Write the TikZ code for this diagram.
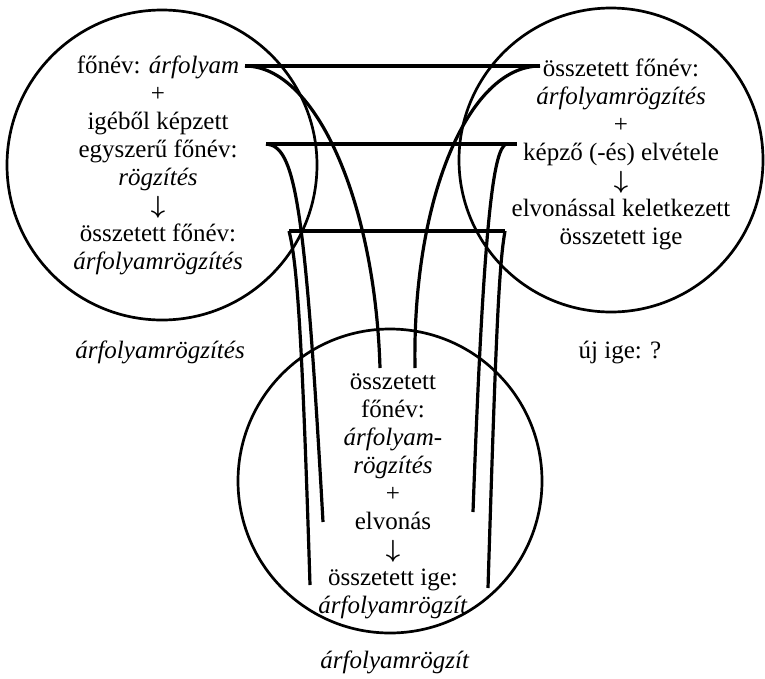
\documentclass[tikz,border=0pt]{standalone}
\usepackage{fontspec}
\setmainfont{Liberation Serif}
\usepackage{tikz}
\usetikzlibrary{positioning}

\newcommand{\lefele}{{\fontsize{23}{28}\selectfont$\boldsymbol{\downarrow}$}}
\providecommand{\boldsymbol}[1]{\mbox{\boldmath$#1$}}

\begin{document}
\begin{tikzpicture}[
      x=1pt, y=-1pt,
      kor/.style={line width=2.7pt},
      vonal/.style={line width=3.2pt},
      szoveg/.style={align=center, font=\fontsize{25}{28}\selectfont, inner sep=0pt}
  ]
      \useasboundingbox (0,0) rectangle (765,678);

      % Körök
      \draw[kor] (162,165) circle (155pt);
      \draw[kor] (611,160) circle (152pt);
      \draw[kor] (390,481) circle (152pt);

      % Vízszintes vonalak végpontjai
      \coordinate (a1) at (245,66);
      \coordinate (b1) at (540,66);
      \coordinate (a2) at (266,144);
      \coordinate (b2) at (517,144);
      \coordinate (c2) at (506,144);
      \coordinate (a3) at (289,231);
      \coordinate (b3) at (505,231);

      % Függőleges vonalak alsó végei
      \coordinate (v1) at (380,368);
      \coordinate (w1) at (415,368);
      \coordinate (v2) at (323,522);
      \coordinate (w2) at (473,512);
      \coordinate (v3) at (310,585);
      \coordinate (w3) at (488,588);

      % Vízszintes vonalak
      \foreach \i in {1,2,3} {
          \draw[vonal] (a\i) -- (b\i);
      }

      % Ívek a vonalak végeiről lefelé
      \draw[vonal] (a1) .. controls (315,66) and (375,200) .. (v1);
      \draw[vonal] (b1) .. controls (468,66) and (412,200) .. (w1);
      \draw[vonal] (a2) .. controls (295,146) and (305,200) .. (v2);
      \draw[vonal] (c2) .. controls (494,150) and (484,210) .. (w2);
      \draw[vonal] (a3) .. controls (297,262) and (302,330) .. (v3);
      \draw[vonal] (b3) .. controls (499,265) and (496,330) .. (w3);

      % Szövegek a körökben
      \node[szoveg] (bal) at (158,165) {főnév: \textit{árfolyam}\\+\\igéből képzett\\egyszerű főnév:\\\textit{rögzítés}\\\lefele\\összetett főnév:\\\textit{árfolyamrögzítés}};
      \node[szoveg] (jobb) at (621,154) {összetett főnév:\\\textit{árfolyamrögzítés}\\+\\képző (-és) elvétele\\\lefele\\elvonással keletkezett\\összetett ige};
      \node[szoveg] (also) at (393,496) {összetett\\főnév:\\\textit{árfolyam-}\\\textit{rögzítés}\\+\\elvonás\\\lefele\\összetett ige:\\\textit{árfolyamrögzít}};

      % Feliratok a körök alatt
      \node[szoveg] (balcim) at (160,352) {\textit{árfolyamrögzítés}};
      \node[szoveg] (jobbcim) at (620,352) {új ige: ?};
      \node[szoveg] (alsocim) at (395,662) {\textit{árfolyamrögzít}};

  \end{tikzpicture}
\end{document}
